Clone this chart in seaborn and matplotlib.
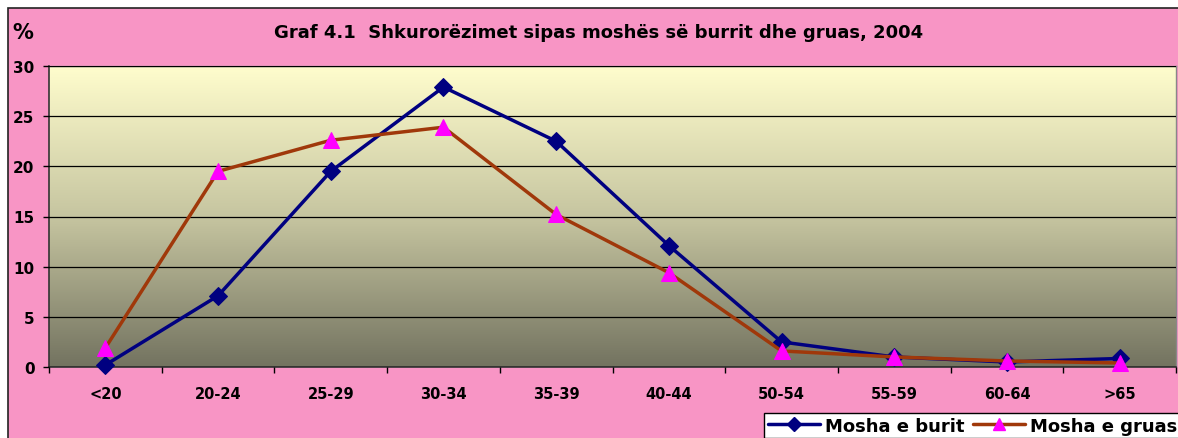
import matplotlib
matplotlib.use("Agg")
import matplotlib.pyplot as plt
import numpy as np
import pandas as pd
import seaborn as sns
from matplotlib.colors import LinearSegmentedColormap
from matplotlib.patches import Rectangle
from matplotlib.lines import Line2D

categories = ["<20", "20-24", "25-29", "30-34", "35-39", "40-44", "50-54", "55-59", "60-64", ">65"]
burri = [0.2, 7.1, 19.5, 27.9, 22.5, 12.1, 2.5, 1.0, 0.5, 0.85]
gruas = [1.9, 19.5, 22.6, 23.9, 15.2, 9.4, 1.6, 1.0, 0.6, 0.4]
series_names = ["Mosha e burit", "Mosha e gruas"]
yticks = [0, 5, 10, 15, 20, 25, 30]
title = "Graf 4.1  Shkurorëzimet sipas moshës së burrit dhe gruas, 2004"

sns.set_theme(style="white")
plt.rcParams['font.family'] = ['DejaVu Sans']
plt.rcParams['text.color'] = 'black'
plt.rcParams['xtick.color'] = 'black'
plt.rcParams['ytick.color'] = 'black'

W, H = 1178, 439
fig = plt.figure(figsize=(W / 100, H / 100), dpi=100)
fig.patch.set_facecolor("white")

# pink chart area
fig.patches.append(Rectangle((8 / W, -0.05), 1.05, 1 - 9 / H + 0.05, transform=fig.transFigure,
                             facecolor="#F895C5", edgecolor="#222222", linewidth=1.2, zorder=0))

L, R, T, B = 49, 1176, 67, 368
ax = fig.add_axes([L / W, 1 - B / H, (R - L) / W, (B - T) / H])
ax.set_zorder(1)

# gradient background
cmap = LinearSegmentedColormap.from_list("bg", [(0, "#737360"), (0.5, "#C6C5A0"), (1.0, "#FFFDCD")])
grad = np.linspace(1, 0, 256).reshape(-1, 1)
ax.imshow(grad, cmap=cmap, aspect="auto", extent=[0, 1, 0, 1], transform=ax.transAxes, zorder=0)

df = pd.DataFrame({
    "cat": categories * 2,
    "val": burri + gruas,
    "series": [series_names[0]] * len(categories) + [series_names[1]] * len(categories),
})
df["x"] = list(range(len(categories))) * 2

for name, lc, mk, mfc, ms in [(series_names[0], "#000080", "D", "#000080", 9),
                               (series_names[1], "#A0380A", "^", "#FF00FF", 12)]:
    sub = df[df["series"] == name]
    sns.lineplot(data=sub, x="x", y="val", ax=ax, color=lc, linewidth=2.5, marker=mk,
                 markersize=ms, markerfacecolor=mfc, markeredgecolor=mfc, sort=False,
                 legend=False, zorder=3, clip_on=False)

ax.set_xlim(-0.5, len(categories) - 0.5)
ax.set_ylim(0, 30)
ax.set_yticks(yticks)
ax.set_yticklabels([str(v) for v in yticks], fontsize=11, fontweight="bold", color="black")
ax.yaxis.grid(True, color="black", linewidth=0.9)
ax.set_axisbelow(False)
for gl in ax.get_ygridlines():
    gl.set_zorder(1)
ax.set_xticks(np.arange(-0.5, len(categories), 1.0))
ax.set_xticklabels([])
ax.set_xticks(np.arange(len(categories)), minor=True)
ax.set_xticklabels(categories, minor=True, fontsize=10.5, fontweight="bold", color="black")
ax.tick_params(axis="x", which="major", length=4.5, width=1, color="black", direction="out", bottom=True)
ax.tick_params(axis="x", which="minor", length=0, pad=14)
ax.tick_params(axis="y", length=4.5, width=1, color="black", direction="out", left=True, pad=6)
ax.set_xlabel("")
ax.set_ylabel("")
for s in ["left", "bottom"]:
    ax.spines[s].set_color("#333333")
    ax.spines[s].set_linewidth(1.2)
for s in ["top", "right"]:
    ax.spines[s].set_color("#888888")
    ax.spines[s].set_linewidth(1.0)

fig.text(599 / W, 1 - 33 / H, title, ha="center", va="center", fontsize=13, fontweight="bold", color="black")
fig.text(12 / W, 1 - 33 / H, "%", ha="left", va="center", fontsize=15, fontweight="bold", color="black")

handles = [
    Line2D([], [], color="#000080", linewidth=2.5, marker="D", markersize=7,
           markerfacecolor="#000080", markeredgecolor="#000080"),
    Line2D([], [], color="#A0380A", linewidth=2.5, marker="^", markersize=9,
           markerfacecolor="#FF00FF", markeredgecolor="#FF00FF"),
]
leg = fig.legend(handles, series_names, loc="upper left", bbox_to_anchor=(764 / W, 1 - 414 / H),
                 ncol=2, frameon=True, fancybox=False, framealpha=1, edgecolor="black",
                 prop={"weight": "bold", "size": 13}, handlelength=2.9, handletextpad=0.28,
                 columnspacing=0.45, borderpad=0.2, borderaxespad=0)
leg.get_frame().set_linewidth(1.0)

fig.savefig("out.png", dpi=100)
